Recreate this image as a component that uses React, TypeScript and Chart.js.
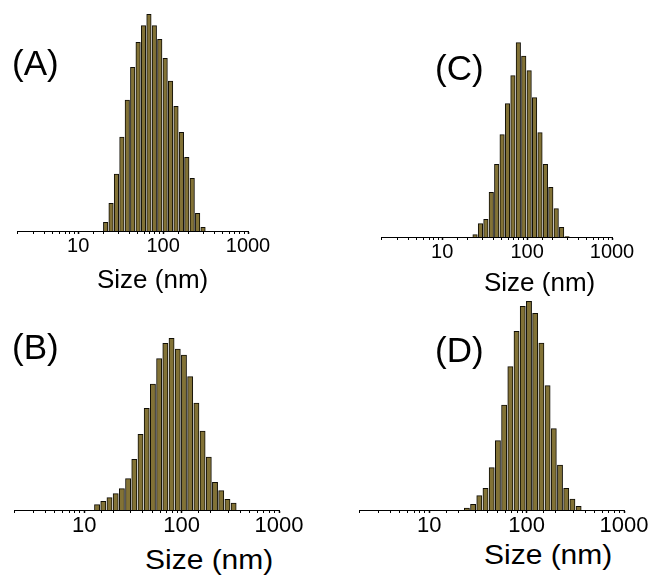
import React, { useEffect, useRef } from "react";
import { Chart, registerables } from "chart.js";

Chart.register(...registerables);

// ---- data ----
const sizesA = [21.04, 24.36, 28.21, 32.67, 37.84, 43.82, 50.75, 58.77, 68.06, 78.82, 91.28, 105.7, 122.4, 141.8, 164.2, 190.1, 220.2, 255.0, 295.3];
const intensityA = [8.7, 27.7, 57, 94, 131, 163.7, 188.7, 205.3, 216.7, 205.3, 191.7, 172.7, 150, 124.7, 98.7, 73.7, 52.7, 17.7, 3.7];

const sizesB = [13.54, 15.69, 18.17, 21.04, 24.36, 28.21, 32.67, 37.84, 43.82, 50.75, 58.77, 68.06, 78.82, 91.28, 105.7, 122.4, 141.8, 164.2, 190.1, 220.2, 255.0, 295.3, 342.0];
const intensityB = [5.3, 8.7, 12.3, 16.3, 21.3, 31.3, 50.7, 75.7, 101.7, 126, 151.3, 166.7, 171.7, 161, 155, 133.3, 107, 79, 53, 27.7, 19.3, 10.7, 7];

const sizesC = [24.36, 28.21, 32.67, 37.84, 43.82, 50.75, 58.77, 68.06, 78.82, 91.28, 105.7, 122.4, 141.8, 164.2, 190.1, 220.2, 255.0, 295.3];
const intensityC = [2.3, 13.3, 17.7, 44.7, 72.7, 102.3, 133.3, 161.3, 194.3, 181, 166.3, 139.3, 104.3, 72.7, 49.7, 28.3, 9.7, 0.5];

const sizesD = [24.36, 28.21, 32.67, 37.84, 43.82, 50.75, 58.77, 68.06, 78.82, 91.28, 105.7, 122.4, 141.8, 164.2, 190.1, 220.2, 255.0, 295.3, 342.0];
const intensityD = [2, 5.7, 14.3, 21.7, 42.3, 69.3, 105, 143.3, 178.7, 203.7, 208.7, 196.7, 167, 124.3, 81.3, 45, 21.7, 11, 3.7];

const tickLabels = [10, 100, 1000];
const axisTitle = "Size (nm)";
const panelLabels = ["(A)", "(B)", "(C)", "(D)"];

const FONT = "'Liberation Sans', Arial, Helvetica, sans-serif";
const BAR_FILL = "#827236";
const BAR_EDGE = "#100e06";

type PanelProps = {
  left: number;
  top: number;
  width: number;
  height: number;
  padL: number;
  padR: number;
  padT: number;
  yMax: number;
  sizes: number[];
  values: number[];
  tickFont: number;
  tickPad: number;
  barThickness: number;
};

function Panel(p: PanelProps) {
  const ref = useRef<HTMLCanvasElement>(null);
  useEffect(() => {
    const chart = new Chart(ref.current as HTMLCanvasElement, {
      type: "bar",
      data: {
        datasets: [
          {
            data: p.sizes.map((s, i) => ({ x: s, y: p.values[i] })),
            backgroundColor: BAR_FILL,
            borderColor: BAR_EDGE,
            borderWidth: 1,
            barThickness: p.barThickness,
            grouped: false,
          } as any,
        ],
      },
      options: {
        responsive: false,
        animation: false,
        events: [],
        layout: { padding: { left: p.padL, right: p.padR, top: p.padT, bottom: 0 } },
        plugins: { legend: { display: false }, tooltip: { enabled: false }, title: { display: false } },
        scales: {
          x: {
            type: "logarithmic",
            min: 1.9,
            max: 1000,
            offset: false,
            border: { display: true, color: "#000", width: 1 },
            grid: {
              display: true,
              offset: false,
              drawOnChartArea: false,
              drawTicks: true,
              tickLength: 3,
              color: "#000",
              tickWidth: (ctx: any) => (ctx.tick && tickLabels.includes(ctx.tick.value) ? 1.5 : 1),
            },
            ticks: {
              autoSkip: false,
              maxRotation: 0,
              minRotation: 0,
              padding: p.tickPad,
              color: "#000",
              font: { family: FONT, size: p.tickFont },
              callback: (v: any) => (tickLabels.includes(Number(v)) ? String(v) : ""),
            },
            afterFit: (s: any) => {
              s.height = 30;
              s.paddingLeft = 0;
              s.paddingRight = 0;
              s.paddingTop = 0;
              s.paddingBottom = 0;
            },
          } as any,
          y: { display: false, min: 0, max: p.yMax },
        },
      },
    });
    return () => chart.destroy();
  }, []);
  return (
    <canvas
      ref={ref}
      width={p.width}
      height={p.height}
      style={{ position: "absolute", left: p.left, top: p.top, width: p.width, height: p.height }}
    />
  );
}

function Label(props: { text: string; left: number; top: number; size: number; sx?: number }) {
  return (
    <div
      style={{
        position: "absolute",
        left: props.left,
        top: props.top,
        fontFamily: FONT,
        fontSize: props.size,
        lineHeight: 1,
        whiteSpace: "nowrap",
        color: "#000",
        transformOrigin: "left top",
        transform: props.sx ? `scaleX(${props.sx})` : undefined,
      }}
    >
      {props.text}
    </div>
  );
}

export default function App() {
  return (
    <div style={{ position: "absolute", left: 0, top: 0, width: 655, height: 581, background: "#fff", overflow: "hidden" }}>
      <Panel left={0} top={0} width={290} height={261} padL={17} padR={42} padT={10} yMax={221}
        sizes={sizesA} values={intensityA} tickFont={20} tickPad={0} barThickness={4.5} />
      <Panel left={340} top={0} width={315} height={267} padL={41} padR={43} padT={30} yMax={207}
        sizes={sizesC} values={intensityC} tickFont={20} tickPad={0} barThickness={4.5} />
      <Panel left={0} top={290} width={325} height={250} padL={14} padR={46} padT={10} yMax={210}
        sizes={sizesB} values={intensityB} tickFont={22} tickPad={0} barThickness={5.2} />
      <Panel left={330} top={290} width={325} height={250} padL={29} padR={31} padT={10} yMax={210}
        sizes={sizesD} values={intensityD} tickFont={22} tickPad={0} barThickness={5.2} />

      <Label text={panelLabels[0]} left={12} top={45} size={35} />
      <Label text={panelLabels[2]} left={435} top={50} size={35} />
      <Label text={panelLabels[1]} left={12} top={329} size={35} />
      <Label text={panelLabels[3]} left={435} top={332} size={35} />

      <Label text={axisTitle} left={97} top={266} size={26} />
      <Label text={axisTitle} left={484} top={269} size={26} />
      <Label text={axisTitle} left={145} top={547} size={27} sx={1.11} />
      <Label text={axisTitle} left={484} top={542} size={27} sx={1.11} />
    </div>
  );
}
